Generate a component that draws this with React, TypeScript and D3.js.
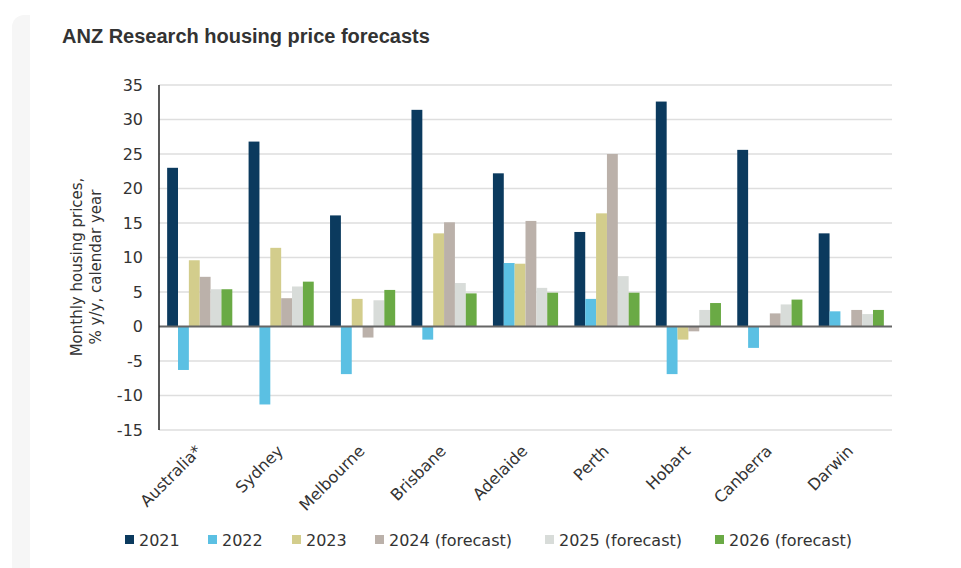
import React from "react";
import * as d3 from "d3";

const categories = ["Australia*", "Sydney", "Melbourne", "Brisbane", "Adelaide", "Perth", "Hobart", "Canberra", "Darwin"];
const seriesNames = ["2021", "2022", "2023", "2024 (forecast)", "2025 (forecast)", "2026 (forecast)"];
const seriesColors = ["#0b3a5e", "#5bc0e3", "#d3cd8c", "#bbb1aa", "#d8dcd9", "#6aaa45"];

const v2021 = [23.0, 26.8, 16.1, 31.4, 22.2, 13.7, 32.6, 25.6, 13.5];
const v2022 = [-6.3, -11.3, -6.9, -1.9, 9.2, 4.0, -6.9, -3.1, 2.2];
const v2023 = [9.6, 11.4, 4.0, 13.5, 9.1, 16.4, -1.9, 0, 0];
const v2024 = [7.2, 4.1, -1.6, 15.1, 15.3, 25.0, -0.7, 1.9, 2.4];
const v2025 = [5.4, 5.8, 3.8, 6.3, 5.6, 7.3, 2.4, 3.2, 1.8];
const v2026 = [5.4, 6.5, 5.3, 4.8, 4.9, 4.9, 3.4, 3.9, 2.4];
const seriesValues = [v2021, v2022, v2023, v2024, v2025, v2026];

const yTicks = [-15, -10, -5, 0, 5, 10, 15, 20, 25, 30, 35];

const W = 961;
const H = 568;
const FONT = "'DejaVu Sans', Verdana, sans-serif";

export default function App() {
  const x0 = d3.scaleBand<string>().domain(categories).range([159, 892]).paddingInner(0.2).paddingOuter(0.1);
  const x1 = d3.scaleBand<string>().domain(seriesNames).range([0, x0.bandwidth()]).padding(0);
  const y = d3.scaleLinear().domain([-15, 35]).range([430, 85]);

  const legendX = [130, 213, 297, 380, 550, 720];

  return (
    <svg width={W} height={H} style={{ position: "absolute", left: 0, top: 0 }}>
      <rect x={0} y={0} width={W} height={H} fill="#ffffff" />
      <rect x={12} y={15} width={W} height={H} rx={12} fill="#f6f6f6" />
      <rect x={30} y={0} width={W - 30} height={H} fill="#ffffff" />
      <text x={62} y={43} fontFamily="'Liberation Sans', Arial, sans-serif" fontWeight="bold" fontSize={20} fill="#333">
        ANZ Research housing price forecasts
      </text>
      {yTicks.map((t) => (
        <g key={t}>
          {t !== 0 && (
            <line x1={159} x2={892} y1={y(t)} y2={y(t)} stroke="#dedede" strokeWidth={1.5} />
          )}
          <text x={143} y={y(t)} dy="0.36em" textAnchor="end" fontFamily={FONT} fontSize={16} fill="#333">
            {t}
          </text>
        </g>
      ))}
      {categories.map((c, ci) => (
        <g key={c} transform={`translate(${x0(c)},0)`}>
          {seriesNames.map((s, si) => {
            const v = seriesValues[si][ci];
            if (v === 0) return null;
            return (
              <rect
                key={s}
                x={x1(s)}
                y={Math.min(y(v), y(0))}
                width={x1.bandwidth()}
                height={Math.abs(y(v) - y(0))}
                fill={seriesColors[si]}
              />
            );
          })}
        </g>
      ))}
      <line x1={159} x2={892} y1={y(0)} y2={y(0)} stroke="#666" strokeWidth={2} />
      <line x1={159} x2={159} y1={y(35)} y2={y(-15)} stroke="#222" strokeWidth={1.5} />
      {categories.map((c) => {
        const cx = (x0(c) as number) + x0.bandwidth() / 2 + 3;
        return (
          <text
            key={c}
            transform={`translate(${cx},452) rotate(-45)`}
            textAnchor="end"
            fontFamily={FONT}
            fontSize={16}
            fill="#333"
          >
            {c}
          </text>
        );
      })}
      <text transform="translate(82,267) rotate(-90)" textAnchor="middle" fontFamily={FONT} fontSize={15} fill="#333">
        <tspan x={0} dy={0}>Monthly housing prices,</tspan>
        <tspan x={0} dy={19}>% y/y, calendar year</tspan>
      </text>
      {seriesNames.map((s, i) => (
        <g key={s} transform={`translate(${legendX[i]},540)`}>
          <rect x={-5} y={-5} width={9} height={9} fill={seriesColors[i]} />
          <text x={9} y={0} dy="0.36em" fontFamily={FONT} fontSize={16} fill="#333">
            {s}
          </text>
        </g>
      ))}
    </svg>
  );
}
